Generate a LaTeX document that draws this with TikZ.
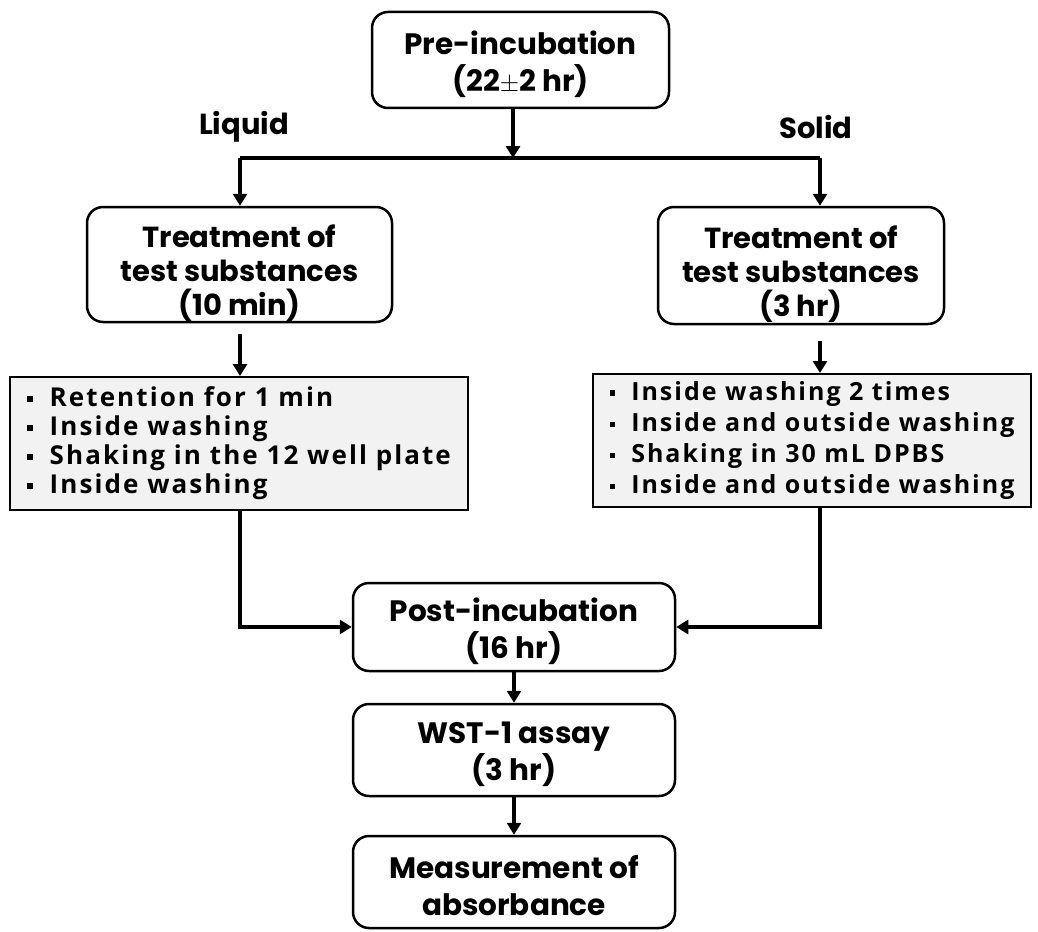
\documentclass[tikz,border=0pt]{standalone}
\usepackage{fontspec}
\setmainfont{Poppins}
\newfontfamily\listfont[LetterSpace=8]{Open Sans}
\usetikzlibrary{arrows.meta}
\definecolor{listgray}{RGB}{242,242,242}
\newcommand{\sqb}{\rule[0.18em]{0.22em}{0.22em}\hspace{0.65em}}
\begin{document}
\begin{tikzpicture}[x=1pt,y=-1pt,
  stepbox/.style={draw, line width=2.5pt, rounded corners=16pt, fill=white, inner sep=0pt},
  steptext/.style={align=center, font=\fontsize{29.5}{37}\selectfont\bfseries, inner sep=0pt},
  threetext/.style={align=center, font=\fontsize{29}{34}\selectfont\bfseries, inner sep=0pt},
  listbox/.style={draw, line width=2pt, fill=listgray, align=left,
    font=\listfont\fontsize{26}{29}\selectfont\bfseries, inner xsep=0pt, inner ysep=0pt},
  lbl/.style={font=\fontsize{29}{30}\selectfont\bfseries, inner sep=0pt},
  conn/.style={line width=4pt, -{Triangle[length=12pt,width=14pt]}},
  plain/.style={line width=4pt}]
\useasboundingbox (0,0) rectangle (1038,931);
% boxes
\node[stepbox, minimum width=297pt, minimum height=96pt] (pre) at (520.5,60) {};
\node[steptext] (pret) at ([yshift=-4.5pt]pre.center) {Pre-incubation\\(22$\pm$2 hr)};
\node[lbl] (liq) at (244,127) {Liquid};
\node[lbl] (sol) at (816,127) {Solid};
\coordinate (jc) at (513,158);
\coordinate (jl) at (240,158);
\coordinate (jr) at (820,158);
\node[stepbox, minimum width=305pt, minimum height=115pt] (lt) at (239.5,264.5) {};
\node[threetext] (ltt) at ([yshift=-9pt]lt.center) {Treatment of\\test substances\\(10 min)};
\node[stepbox, minimum width=286pt, minimum height=117pt] (rt) at (801,265.5) {};
\node[threetext] (rtt) at ([yshift=-9pt]rt.center) {Treatment of\\test substances\\(3 hr)};
\node[listbox, minimum width=458pt, minimum height=133pt] (lg) at (239,443.5)
 {\sqb Retention for 1 min\\\sqb Inside washing\\\sqb Shaking in the 12 well plate\\\sqb Inside washing};
\node[listbox, minimum width=438pt, minimum height=133pt, font=\listfont\fontsize{25}{31}\selectfont\bfseries] (rg) at (812,440.5)
 {\sqb Inside washing 2 times\\\sqb Inside and outside washing\\\sqb Shaking in 30 mL DPBS\\\sqb Inside and outside washing};
\node[stepbox, minimum width=322pt, minimum height=88pt] (post) at (514,627) {};
\node[steptext] (postt) at ([yshift=-4.5pt]post.center) {Post-incubation\\(16 hr)};
\node[stepbox, minimum width=322pt, minimum height=92pt] (wst) at (514,750) {};
\node[steptext] (wstt) at ([yshift=-4.5pt]wst.center) {WST-1 assay\\(3 hr)};
\node[stepbox, minimum width=322pt, minimum height=92pt] (meas) at (514,882) {};
\node[steptext] (meast) at ([yshift=-4pt]meas.center) {Measurement of\\absorbance};
% connectors
\draw[conn] (jc |- pre.south) -- (jc);
\draw[plain] (jl) -- (jr);
\draw[conn] (jl) -- (jl |- lt.north);
\draw[conn] (jr) -- (jr |- rt.north);
\draw[conn] ([yshift=-11pt]lt.south -| jl) -- (lg.north -| jl);
\draw[conn] ([yshift=-16pt]rt.south -| jr) -- (rg.north -| jr);
\draw[conn] (lg.south -| jl) |- (post.west);
\draw[conn] (rg.south -| jr) |- (post.east);
\draw[conn] (post) -- (wst);
\draw[conn] (wst) -- (meas);
\end{tikzpicture}
\end{document}
